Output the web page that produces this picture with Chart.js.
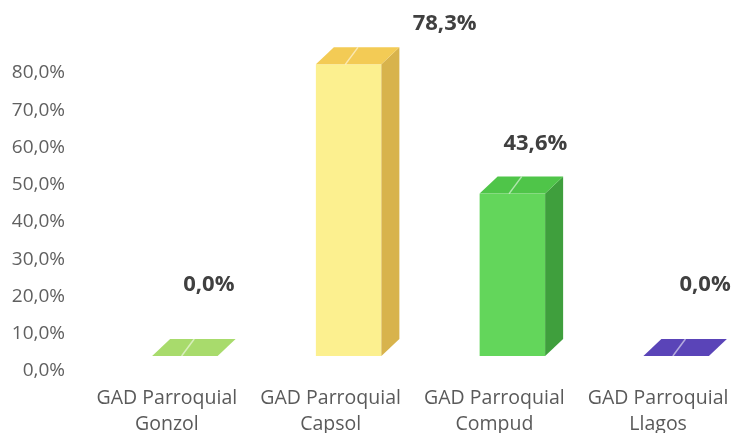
<!DOCTYPE html>
<html>
<head>
<meta charset="utf-8">
<script src="https://cdn.jsdelivr.net/npm/chart.js@4.4.0/dist/chart.umd.min.js"></script>
<style>
  html, body { margin: 0; padding: 0; background: #fff; }
  #caja { width: 735px; height: 433px; }
</style>
</head>
<body>
<div id="caja"><canvas id="myChart"></canvas></div>
<script>
// datos
let categorias = [
    ['GAD Parroquial', 'Gonzol'],
    ['GAD Parroquial', 'Capsol'],
    ['GAD Parroquial', 'Compud'],
    ['GAD Parroquial', 'Llagos']
];
let porcentajes = [0.0, 78.3, 43.6, 0.0];
let ticksY = [0, 10, 20, 30, 40, 50, 60, 70, 80];

// colores de cada cara
let colorFrente = ['#a8db6c', '#fcf08f', '#63d65b', '#5a44b8'];
let colorArriba = ['#a8db6c', '#f3cb55', '#4fc549', '#5a44b8'];
let colorLado = ['#8fc457', '#d8b34c', '#3f9f3d', '#4a379c'];
// desplazamiento de las etiquetas respecto a la cara superior
let movEtiqueta = [[24, -71], [96, -41], [23, -50], [29, -71]];

function fmt(v) {
    return v.toFixed(1).replace('.', ',') + '%';
}

// dibuja las barras en 3D a partir de los elementos de Chart.js
const barras3d = {
    id: 'barras3d',
    afterDatasetsDraw(chart) {
        const ctx = chart.ctx;
        const meta = chart.getDatasetMeta(0);
        const sx = 23, sy = -15;   // la cara frontal esta delante del eje
        const dx = 18, dy = 17;    // profundidad
        meta.data.forEach((bar, i) => {
            const w = bar.width;
            const x0 = bar.x - w / 2 + sx;
            const x1 = x0 + w;
            const yb = bar.base + sy;
            const yt = bar.y + sy;
            ctx.save();
            if (yb - yt > 0.5) {
                ctx.fillStyle = colorFrente[i];
                ctx.fillRect(x0, yt, w, yb - yt);
                ctx.fillStyle = colorLado[i];
                ctx.beginPath();
                ctx.moveTo(x1, yt);
                ctx.lineTo(x1 + dx, yt - dy);
                ctx.lineTo(x1 + dx, yb - dy);
                ctx.lineTo(x1, yb);
                ctx.closePath();
                ctx.fill();
            }
            ctx.fillStyle = colorArriba[i];
            ctx.beginPath();
            ctx.moveTo(x0, yt);
            ctx.lineTo(x1, yt);
            ctx.lineTo(x1 + dx, yt - dy);
            ctx.lineTo(x0 + dx, yt - dy);
            ctx.closePath();
            ctx.fill();
            // brillo sobre la tapa
            ctx.strokeStyle = 'rgba(255,255,255,0.55)';
            ctx.lineWidth = 1.5;
            ctx.beginPath();
            ctx.moveTo(x0 + w * 0.45, yt);
            ctx.lineTo(x0 + w * 0.45 + dx * 0.7, yt - dy);
            ctx.stroke();

            // etiqueta de valor
            const m = movEtiqueta[i];
            ctx.fillStyle = '#404040';
            ctx.font = 'bold 22px "Open Sans", Lato, sans-serif';
            ctx.textAlign = 'center';
            ctx.textBaseline = 'middle';
            ctx.fillText(fmt(porcentajes[i]), x0 + w / 2 + m[0], yt + m[1]);
            ctx.restore();
        });
    }
};

let ctx = document.getElementById('myChart').getContext('2d');
let myChart = new Chart(ctx, {
    type: 'bar',
    data: {
        labels: categorias,
        datasets: [{
            data: porcentajes,
            backgroundColor: 'rgba(0,0,0,0)',
            barPercentage: 0.4,
            categoryPercentage: 1.0
        }]
    },
    options: {
        responsive: true,
        maintainAspectRatio: false,
        animation: false,
        layout: { padding: { top: 73, right: 0, bottom: 0, left: 0 } },
        plugins: {
            legend: { display: false },
            tooltip: { enabled: false }
        },
        scales: {
            x: {
                afterFit: (s) => { s.height = 62; s.paddingLeft = 0; s.paddingRight = 0; },
                grid: { display: false, drawTicks: false },
                border: { display: false },
                ticks: {
                    color: '#5a5a5a',
                    padding: 15,
                    labelOffset: 5,
                    maxRotation: 0,
                    autoSkip: false,
                    font: { family: 'Open Sans', size: 19.5, lineHeight: 1.3 }
                }
            },
            y: {
                min: 0,
                max: 80,
                afterBuildTicks: (s) => { s.ticks = ticksY.map(v => ({ value: v })); },
                afterFit: (s) => { s.width = 80; },
                grid: { display: false, drawTicks: false },
                border: { display: false },
                ticks: {
                    color: '#606060',
                    padding: 15,
                    font: { family: 'Open Sans', size: 19 },
                    callback: (v) => fmt(v)
                }
            }
        }
    },
    plugins: [barras3d]
});
</script>
</body>
</html>
